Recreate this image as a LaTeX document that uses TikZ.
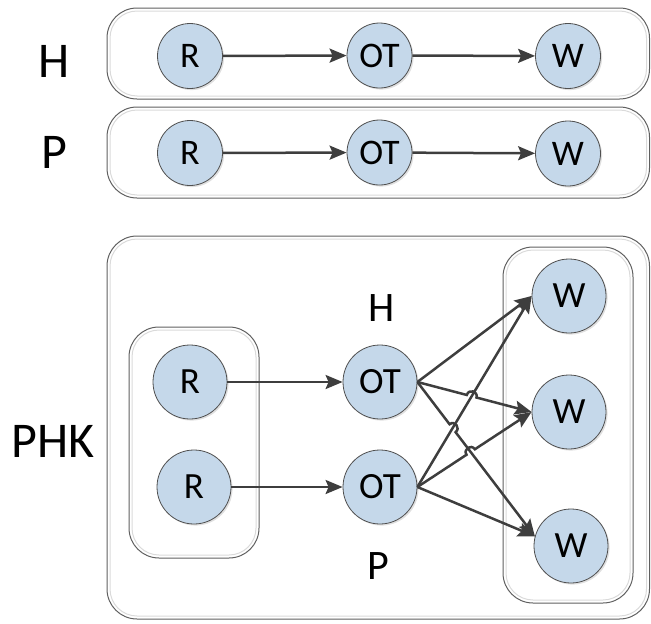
\documentclass[tikz,border=0pt]{standalone}
\usepackage{fontspec}
\setmainfont{Carlito}
\usetikzlibrary{arrows.meta,shadows,intersections,calc}

\definecolor{nodefill}{RGB}{197,216,234}
\definecolor{nodeline}{RGB}{80,80,80}
\definecolor{edgecol}{RGB}{62,62,62}
\definecolor{boxdark}{RGB}{95,95,95}
\definecolor{boxlight}{RGB}{218,218,218}

\tikzset{
  ball/.style={circle, draw=nodeline, line width=0.8pt, fill=nodefill,
    inner sep=0pt, minimum size=#1,
    drop shadow={shadow xshift=1.6pt, shadow yshift=-1.6pt, opacity=0.35, fill=black!35}},
  smalltext/.style={font=\fontsize{36}{42}\selectfont},
  largetext/.style={font=\fontsize{37}{44}\selectfont},
  biglabel/.style={inner sep=0pt, font=\fontsize{50}{60}\selectfont},
  midlabel/.style={inner sep=0pt, font=\fontsize{42}{50}\selectfont},
  link/.style={draw=edgecol, line width=2.5pt,
    -{Stealth[length=17pt, width=14pt, inset=3pt]}},
  frameout/.style={draw=boxdark, line width=1pt, rounded corners=30pt},
  framein/.style={draw=boxlight, line width=1pt, rounded corners=27pt},
  hop/.style={bend left=90, looseness=1.7}
}

\begin{document}
\begin{tikzpicture}[x=1pt, y=-1pt]
  \useasboundingbox (0,0) rectangle (651,624);

  % group frames: outer dark outline with a pale inner rim
  \draw[frameout] (107,8)   rectangle (649.5,99);
  \draw[framein]  (110,11)  rectangle (646.5,96);
  \draw[frameout] (107,107) rectangle (649.5,198);
  \draw[framein]  (110,110) rectangle (646.5,195);
  \draw[frameout] (107,236) rectangle (649.5,619);
  \draw[framein]  (110,239) rectangle (646.5,616);
  \draw[frameout] (129,327) rectangle (259,558);
  \draw[framein]  (132,330) rectangle (256,555);
  \draw[frameout] (503,247) rectangle (633,603);
  \draw[framein]  (506,250) rectangle (630,600);

  % row labels
  \node[biglabel] (labH)   at (54,61)  {H};
  \node[biglabel] (labP)   at (54,152) {P};
  \node[biglabel] (labPHK) at (53,441) {PHK};
  \node[midlabel] (subH)   at (382,308) {H};
  \node[midlabel] (subP)   at (378,566) {P};

  % first chain
  \node[ball=65pt, smalltext] (hr) at (190,56)    {R};
  \node[ball=65pt, smalltext] (ho) at (379.5,55.5) {OT};
  \node[ball=65pt, smalltext] (hw) at (568,56)    {W};
  % second chain
  \node[ball=65pt, smalltext] (pr) at (190,153)   {R};
  \node[ball=65pt, smalltext] (po) at (379.5,152.5) {OT};
  \node[ball=65pt, smalltext] (pw) at (568,153.5) {W};
  % combined network
  \node[ball=74pt, largetext] (kr1) at (190,382) {R};
  \node[ball=74pt, largetext] (kr2) at (194,487) {R};
  \node[ball=74pt, largetext] (ko1) at (380,382) {OT};
  \node[ball=74pt, largetext] (ko2) at (380,487) {OT};
  \node[ball=74pt, largetext] (kw1) at (569,296) {W};
  \node[ball=74pt, largetext] (kw2) at (569,412) {W};
  \node[ball=74pt, largetext] (kw3) at (571,546) {W};

  % straight chains
  \draw[link] (hr) -- (ho);
  \draw[link] (ho) -- (hw);
  \draw[link] (pr) -- (po);
  \draw[link] (po) -- (pw);
  \draw[link] (kr1) -- (ko1);
  \draw[link] (kr2) -- (ko2);

  % crossing points for the line hops
  \path[name path=a12] (ko1.east) -- (kw2.west);
  \path[name path=a13] (ko1.east) -- (kw3.165);
  \path[name path=b21] (ko2.east) -- (kw1.west);
  \path[name path=b22] (ko2.east) -- (kw2.west);
  \path[name intersections={of=a12 and b21, by=xa}];
  \path[name intersections={of=a13 and b21, by=xb}];
  \path[name intersections={of=a13 and b22, by=xc}];

  % fan-out edges
  \draw[link] (ko1.east) -- (kw1.west);
  \draw[link] (ko2.east) -- (kw1.west);
  \draw[link] (ko2.east) -- (kw3.165);
  \draw[link] (ko1.east) -- ($(xa)!5pt!(ko1.east)$)
      to[hop] ($(xa)!5pt!(kw2.west)$) -- (kw2.west);
  \draw[link] (ko1.east) -- ($(xb)!5pt!(ko1.east)$)
      to[hop] ($(xb)!5pt!(kw3.165)$) -- (kw3.165);
  \draw[link] (ko2.east) -- ($(xc)!5pt!(ko2.east)$)
      to[hop] ($(xc)!5pt!(kw2.west)$) -- (kw2.west);
\end{tikzpicture}
\end{document}
